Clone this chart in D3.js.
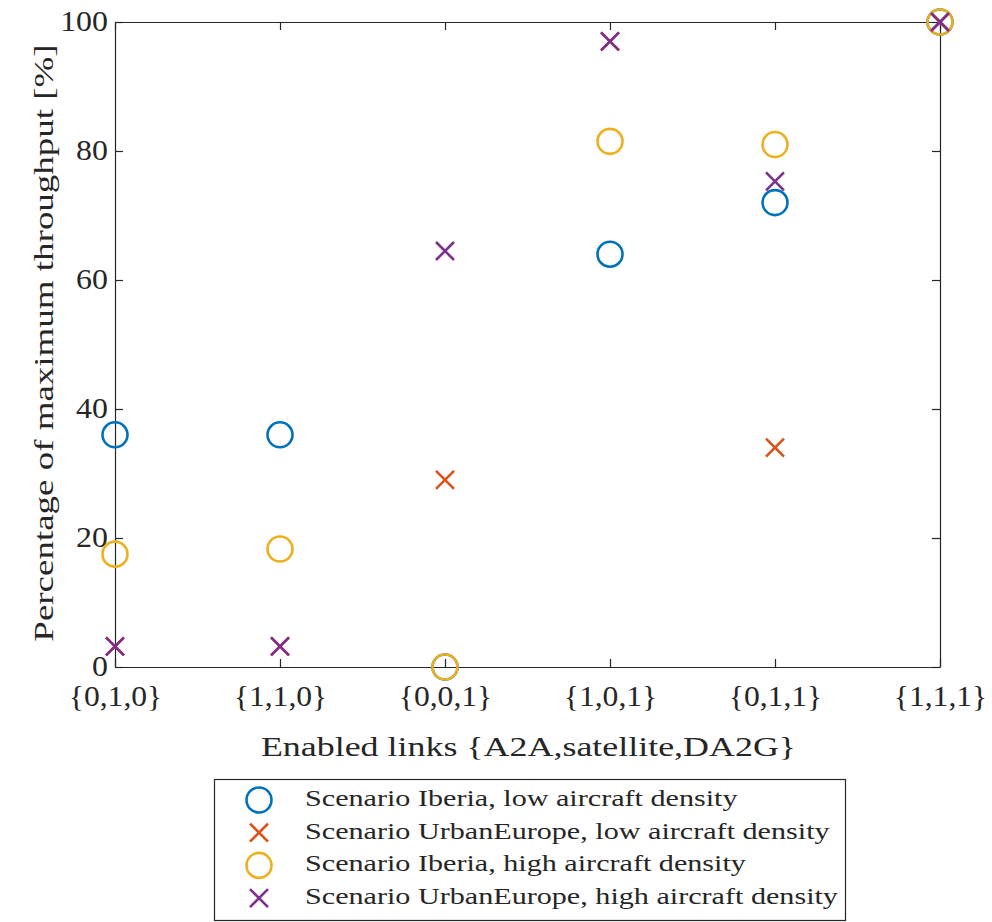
<!DOCTYPE html>
<html>
<head>
<meta charset="utf-8">
<script src="https://cdn.jsdelivr.net/npm/d3@7"></script>
<style>
  html, body { margin: 0; padding: 0; background: #fff; }
  svg { display: block; }
  text { font-family: "Liberation Serif", "DejaVu Serif", serif; fill: #262626; }
</style>
</head>
<body>
<svg id="chart" width="992" height="922"></svg>
<script>
// Link configurations {A2A, satellite, DA2G}
const categories = ["{0,1,0}", "{1,1,0}", "{0,0,1}", "{1,0,1}", "{0,1,1}", "{1,1,1}"];

// Percentage of maximum throughput per configuration
const iberiaLow       = [36, 36, 0, 64, 72, 100];
const urbanEuropeLow  = [3.2, 3.2, 29, 97, 34, 100];
const iberiaHigh      = [17.5, 18.3, 0, 81.5, 81, 100];
const urbanEuropeHigh = [3.2, 3.2, 64.5, 97, 75.3, 100];

const yTicks = [0, 20, 40, 60, 80, 100];

const seriesNames = [
  "Scenario Iberia, low aircraft density",
  "Scenario UrbanEurope, low aircraft density",
  "Scenario Iberia, high aircraft density",
  "Scenario UrbanEurope, high aircraft density"
];

const series = [
  { name: seriesNames[0], values: iberiaLow,       color: "#0072BD", shape: "circle" },
  { name: seriesNames[1], values: urbanEuropeLow,  color: "#D95319", shape: "cross" },
  { name: seriesNames[2], values: iberiaHigh,      color: "#EDB120", shape: "circle" },
  { name: seriesNames[3], values: urbanEuropeHigh, color: "#7E2F8E", shape: "cross" }
];

const svg = d3.select("#chart");
const plot = { left: 115, right: 940, top: 22, bottom: 667 };
const axisColor = "#262626";
const tickLen = 8;

// Widen glyphs horizontally to give the serif face a broader, TeX-like set width
function widen(sel, factor) {
  sel.each(function () {
    const w = this.getComputedTextLength();
    d3.select(this).attr("textLength", w * factor).attr("lengthAdjust", "spacingAndGlyphs");
  });
}

const x = d3.scalePoint().domain(categories).range([plot.left, plot.right]).padding(0);
const y = d3.scaleLinear().domain([0, 100]).range([plot.bottom, plot.top]);

// Bottom axis with inward ticks
const gx = svg.append("g").attr("transform", `translate(0,${plot.bottom})`)
  .call(d3.axisBottom(x).tickSizeInner(-tickLen).tickSizeOuter(0).tickPadding(18));
// Left axis with inward ticks
const gy = svg.append("g").attr("transform", `translate(${plot.left},0)`)
  .call(d3.axisLeft(y).tickValues(yTicks).tickSizeInner(-tickLen).tickSizeOuter(0).tickPadding(7));
// Top and right mirrored ticks, no labels
const gt = svg.append("g").attr("transform", `translate(0,${plot.top})`)
  .call(d3.axisTop(x).tickSizeInner(-tickLen).tickSizeOuter(0).tickFormat(""));
const gr = svg.append("g").attr("transform", `translate(${plot.right},0)`)
  .call(d3.axisRight(y).tickValues(yTicks).tickSizeInner(-tickLen).tickSizeOuter(0).tickFormat(""));

[gx, gy, gt, gr].forEach(g => {
  g.attr("font-family", null);
  g.select(".domain").attr("stroke", axisColor).attr("stroke-width", 1.2);
  g.selectAll(".tick line").attr("stroke", axisColor).attr("stroke-width", 1.2);
  g.selectAll(".tick text").attr("font-size", 29).attr("fill", axisColor);
});
gx.selectAll(".tick text").attr("dy", "0.71em");
gy.selectAll(".tick text").attr("dy", "0.3em");
widen(gx.selectAll(".tick text"), 1.09);
widen(gy.selectAll(".tick text"), 1.1);

// Axis titles
const xTitle = svg.append("text")
  .attr("x", (plot.left + plot.right) / 2 + 1)
  .attr("y", 756)
  .attr("text-anchor", "middle")
  .attr("font-size", 27)
  .text("Enabled links {A2A,satellite,DA2G}");
widen(xTitle, 1.33);

const yTitle = svg.append("text")
  .attr("transform", `translate(53,343) rotate(-90)`)
  .attr("text-anchor", "middle")
  .attr("font-size", 28)
  .text("Percentage of maximum throughput [%]");
widen(yTitle, 1.32);

// Marker drawing
const r = 12.5, c = 9;
function drawMarker(g, shape, color) {
  if (shape === "circle") {
    g.append("circle").attr("r", r).attr("fill", "none").attr("stroke", color).attr("stroke-width", 2.6);
  } else {
    g.append("path").attr("d", `M${-c},${-c}L${c},${c}M${-c},${c}L${c},${-c}`)
      .attr("fill", "none").attr("stroke", color).attr("stroke-width", 2.6);
  }
}

series.forEach(s => {
  s.values.forEach((v, i) => {
    const g = svg.append("g").attr("transform", `translate(${x(categories[i])},${y(v)})`);
    drawMarker(g, s.shape, s.color);
  });
});

// Legend
const legend = svg.append("g").attr("transform", "translate(214,779)");
legend.append("rect").attr("x", 0.5).attr("y", 0.5).attr("width", 631).attr("height", 141)
  .attr("fill", "#fff").attr("stroke", axisColor).attr("stroke-width", 1.2);
series.forEach((s, i) => {
  const row = legend.append("g").attr("transform", `translate(0,${21 + i * 32.7})`);
  const m = row.append("g").attr("transform", "translate(45,0)");
  drawMarker(m, s.shape, s.color);
  const t = row.append("text").attr("x", 91).attr("y", 6)
    .attr("font-size", 23).text(s.name);
  widen(t, 1.31);
});
</script>
</body>
</html>
